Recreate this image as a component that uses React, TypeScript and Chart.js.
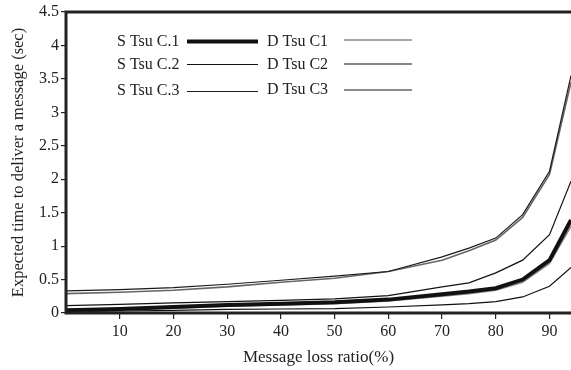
import { useEffect, useRef } from "react";
import { Chart, registerables } from "chart.js";

Chart.register(...registerables);

const lossRatio = [0, 10, 20, 30, 40, 50, 60, 70, 75, 80, 85, 90, 94];
const stsuC1 = [0.04, 0.06, 0.09, 0.12, 0.14, 0.16, 0.2, 0.28, 0.32, 0.37, 0.5, 0.79, 1.39];
const stsuC2 = [0.11, 0.13, 0.15, 0.17, 0.19, 0.21, 0.26, 0.39, 0.45, 0.6, 0.79, 1.17, 1.97];
const stsuC3 = [0.33, 0.35, 0.38, 0.43, 0.49, 0.55, 0.62, 0.84, 0.97, 1.12, 1.47, 2.12, 3.55];
const dtsuC1 = [0.03, 0.05, 0.07, 0.1, 0.12, 0.14, 0.18, 0.25, 0.29, 0.34, 0.46, 0.74, 1.3];
const dtsuC2 = [0.02, 0.03, 0.04, 0.055, 0.06, 0.065, 0.09, 0.12, 0.14, 0.17, 0.24, 0.4, 0.68];
const dtsuC3 = [0.29, 0.31, 0.34, 0.39, 0.46, 0.52, 0.62, 0.79, 0.93, 1.09, 1.43, 2.07, 3.45];
const seriesNames = ["S Tsu C.1", "S Tsu C.2", "S Tsu C.3", "D Tsu C1", "D Tsu C2", "D Tsu C3"];
const xTickValues = [10, 20, 30, 40, 50, 60, 70, 80, 90];
const yTickLabels = ["0", "0.5", "1", "1.5", "2", "2.5", "3", "3.5", "4", "4.5"];
const xTitle = "Message loss ratio(%)";
const yTitle = "Expected time to deliver a message (sec)";

const FONT = "'Liberation Serif', 'Times New Roman', serif";

const legendPlugin = {
  id: "customFrameLegend",
  afterDatasetsDraw(chart: any) {
    const { ctx, chartArea: a } = chart;
    ctx.save();
    ctx.strokeStyle = "#222";
    ctx.lineWidth = 3;
    ctx.beginPath();
    ctx.moveTo(a.right, a.top);
    ctx.lineTo(a.left, a.top);
    ctx.lineTo(a.left, a.bottom);
    ctx.lineTo(a.right, a.bottom);
    ctx.stroke();

    const cols = [
      { textX: 117, lineX0: 187, lineX1: 258, rows: [42, 65, 91], lineRows: [41.5, 64.5, 91.5] },
      { textX: 267, lineX0: 344, lineX1: 412, rows: [42, 65, 90], lineRows: [40, 64, 90] },
    ];
    ctx.font = `16px ${FONT}`;
    ctx.textBaseline = "middle";
    ctx.textAlign = "left";
    chart.data.datasets.forEach((ds: any, i: number) => {
      const col = cols[Math.floor(i / 3)];
      const r = i % 3;
      ctx.fillStyle = "#222";
      ctx.fillText(ds.label, col.textX, col.rows[r]);
      ctx.strokeStyle = ds.borderColor;
      ctx.lineWidth = ds.borderWidth;
      ctx.beginPath();
      ctx.moveTo(col.lineX0, col.lineRows[r]);
      ctx.lineTo(col.lineX1, col.lineRows[r]);
      ctx.stroke();
    });
    ctx.restore();
  },
};

export default function App() {
  const ref = useRef<HTMLCanvasElement | null>(null);
  useEffect(() => {
    if (!ref.current) return;
    const series = [stsuC1, stsuC2, stsuC3, dtsuC1, dtsuC2, dtsuC3];
    const colors = ["#111", "#111", "#1a1a1a", "#888", "#111", "#666"];
    const widths = [4, 1.2, 1.2, 1.6, 1.2, 1.6];
    const chart = new Chart(ref.current, {
      type: "line",
      data: {
        datasets: series.map((s, i) => ({
          label: seriesNames[i],
          data: s.map((v, j) => ({ x: lossRatio[j], y: v })),
          borderColor: colors[i],
          borderWidth: widths[i],
          pointRadius: 0,
          tension: 0,
          fill: false,
        })),
      },
      options: {
        responsive: false,
        animation: false,
        layout: { padding: { top: 12, left: 0, right: 0, bottom: 0 } },
        plugins: { legend: { display: false }, tooltip: { enabled: false } },
        scales: {
          x: {
            type: "linear",
            min: 0,
            max: 94,
            afterBuildTicks: (s: any) => {
              s.ticks = xTickValues.map((v) => ({ value: v }));
            },
            afterFit: (s: any) => {
              s.height = 57;
            },
            grid: { drawOnChartArea: false, drawTicks: true, tickLength: 6, color: "#222", lineWidth: 1.2 },
            border: { display: false },
            ticks: { font: { family: FONT, size: 16 }, color: "#222", padding: 3, maxRotation: 0 },
            title: {
              display: true,
              text: xTitle,
              font: { family: FONT, size: 17 },
              color: "#222",
              padding: { top: 0, bottom: 2 },
            },
          },
          y: {
            min: 0,
            max: 4.5,
            ticks: {
              stepSize: 0.5,
              font: { family: FONT, size: 16 },
              color: "#222",
              padding: 2,
              callback: (_v: any, i: number) => yTickLabels[i],
            },
            afterFit: (s: any) => {
              s.width = 66;
            },
            grid: { drawOnChartArea: false, drawTicks: true, tickLength: 5, color: "#222", lineWidth: 1.2 },
            border: { display: false },
            title: {
              display: true,
              text: yTitle,
              font: { family: FONT, size: 16.5 },
              color: "#222",
              padding: { top: 9, bottom: 0 },
            },
          },
        },
      },
      plugins: [legendPlugin],
    });
    return () => chart.destroy();
  }, []);
  return (
    <div style={{ position: "absolute", left: 0, top: 0, width: 571, height: 370, background: "#fff" }}>
      <canvas ref={ref} width={571} height={370} style={{ display: "block" }} />
    </div>
  );
}
